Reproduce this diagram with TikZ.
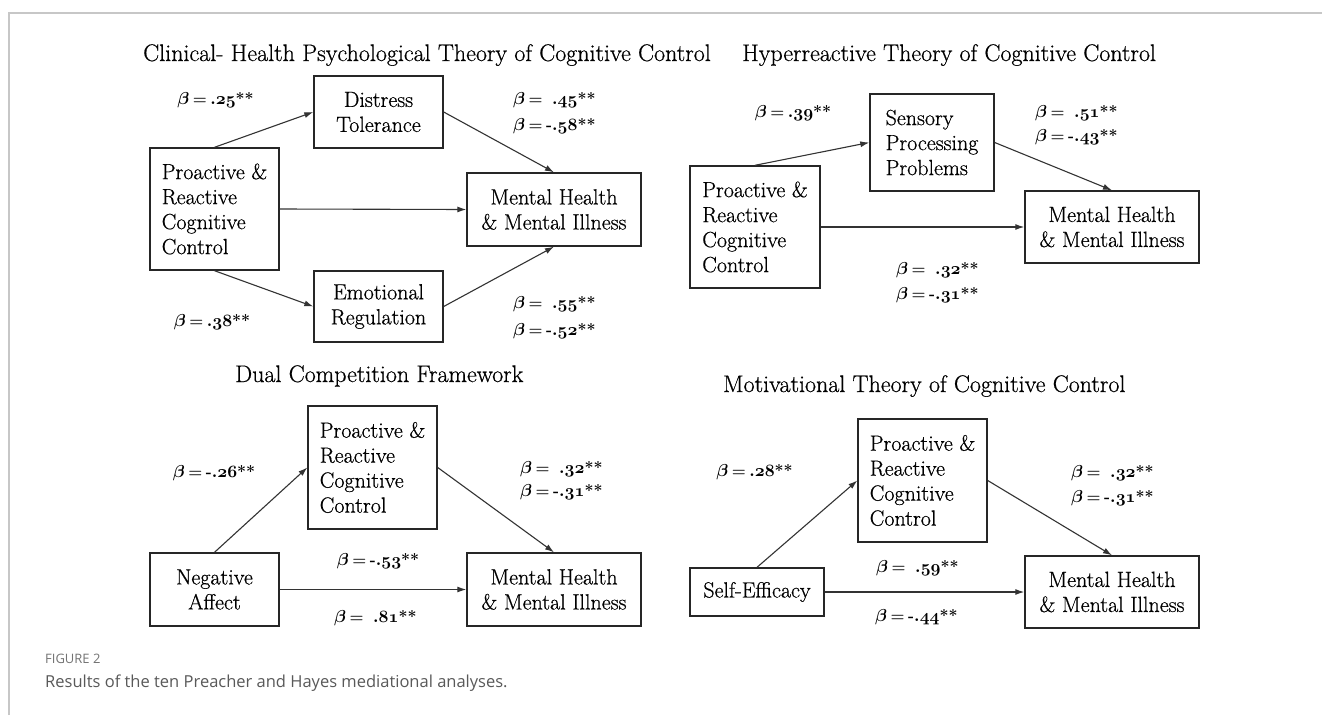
\documentclass[tikz,border=0pt]{standalone}
\usepackage{fontspec}
\newfontfamily\capfont{Open Sans}
\newfontfamily\heavy{Latin Modern Roman}[FakeBold=0.6]
\usetikzlibrary{arrows.meta}
\newcommand{\bl}[2]{$\beta$\hspace{0.22em}=\hspace{0.22em}#1$\mathnormal{.#2}$**}
\begin{document}
\begin{tikzpicture}[x=1pt,y=-1pt,
  box/.style={draw=black!85, line width=1.4pt, inner sep=0pt, font=\heavy\fontsize{22}{25}\selectfont},
  conn/.style={draw=black!80, line width=1.1pt, -{Latex[length=9pt,width=6pt]}},
  lbl/.style={font=\fontsize{16}{25}\selectfont\bfseries\boldmath, inner sep=0pt, align=left},
  ttl/.style={font=\heavy\fontsize{24}{28}\selectfont, inner sep=0pt, anchor=base west},
  frame/.style={draw=black!22, line width=1.5pt},
]
\useasboundingbox (0,0) rectangle (1322,715);
\fill[white] (0,0) rectangle (1322,715);
\draw[frame] (9,715) -- (9,13) -- (1322,13);

% Panel 1
\node[ttl] (t1) at (143,61) {Clinical- Health Psychological Theory of Cognitive Control};
\node[box, minimum width=129pt, minimum height=122pt, align=left] (p1prc) at (214.5,209) {Proactive \&\\Reactive\\Cognitive\\Control};
\node[box, minimum width=129pt, minimum height=72pt, align=center] (p1dt) at (378.5,112) {Distress\\Tolerance};
\node[box, minimum width=129pt, minimum height=71pt, align=center] (p1er) at (378.5,306.5) {Emotional\\Regulation};
\node[box, minimum width=174pt, minimum height=73pt, align=center] (p1mh) at (554,209.5) {Mental Health\\\& Mental Illness};
\draw[conn] (p1prc.north) -- (p1dt.west);
\draw[conn] (p1dt.east) -- (p1mh.north);
\draw[conn] (p1prc.east) -- (p1mh.west);
\draw[conn] (p1prc.south) -- (p1er.west);
\draw[conn] (p1er.east) -- (p1mh.south);
\node[lbl] (l1a) at (215.5,100) {\bl{}{25}};
\node[lbl, anchor=west, font=\fontsize{16}{26}\selectfont\bfseries\boldmath] (l1b) at (513,113) {\bl{\phantom{-}}{45}\\\bl{-}{58}};
\node[lbl] (l1c) at (212,322) {\bl{}{38}};
\node[lbl, anchor=west, font=\fontsize{16}{27}\selectfont\bfseries\boldmath] (l1d) at (513,317.5) {\bl{\phantom{-}}{55}\\\bl{-}{52}};

% Panel 2
\node[ttl] (t2) at (742,61) {Hyperreactive Theory of Cognitive Control};
\node[box, minimum width=130pt, minimum height=122pt, align=left] (p2prc) at (755,227) {Proactive \&\\Reactive\\Cognitive\\Control};
\node[box, minimum width=124pt, minimum height=97pt, align=left] (p2sp) at (932,142.5) {Sensory\\Processing\\Problems};
\node[box, minimum width=174pt, minimum height=72pt, align=center] (p2mh) at (1112,227) {Mental Health\\\& Mental Illness};
\draw[conn] (p2prc.north) -- (p2sp.west);
\draw[conn] (p2sp.east) -- (p2mh.north);
\draw[conn] (p2prc.east) -- (p2mh.west);
\node[lbl] (l2a) at (793,113) {\bl{}{39}};
\node[lbl, anchor=west, font=\fontsize{16}{24}\selectfont\bfseries\boldmath] (l2b) at (1035,125) {\bl{\phantom{-}}{51}\\\bl{-}{43}};
\node[lbl, anchor=west] (l2c) at (896,282.5) {\bl{\phantom{-}}{32}\\\bl{-}{31}};

% Panel 3
\node[ttl] (t3) at (235,382) {Dual Competition Framework};
\node[box, minimum width=129pt, minimum height=123pt, align=left] (p3prc) at (372.5,467.5) {Proactive \&\\Reactive\\Cognitive\\Control};
\node[box, minimum width=129pt, minimum height=73pt, align=center] (p3na) at (214.5,589.5) {Negative\\Affect};
\node[box, minimum width=174pt, minimum height=73pt, align=center] (p3mh) at (554,589.5) {Mental Health\\\& Mental Illness};
\draw[conn] (p3na.north) -- (p3prc.west);
\draw[conn] (p3prc.east) -- (p3mh.north);
\draw[conn] (p3na.east) -- (p3mh.west);
\node[lbl] (l3a) at (214,473) {\bl{-}{26}};
\node[lbl, anchor=west, font=\fontsize{16}{23}\selectfont\bfseries\boldmath] (l3b) at (520,480.5) {\bl{\phantom{-}}{32}\\\bl{-}{31}};
\node[lbl] (l3c) at (378,561) {\bl{-}{53}};
\node[lbl, anchor=west] (l3d) at (334,618) {\bl{\phantom{-}}{81}};

% Panel 4
\node[ttl] (t4) at (723,392) {Motivational Theory of Cognitive Control};
\node[box, minimum width=129pt, minimum height=123pt, align=left] (p4prc) at (922.5,480.5) {Proactive \&\\Reactive\\Cognitive\\Control};
\node[box, minimum width=134pt, minimum height=48pt, align=center] (p4se) at (757,592) {Self-Efficacy};
\node[box, minimum width=174pt, minimum height=72pt, align=center] (p4mh) at (1112,592) {Mental Health\\\& Mental Illness};
\draw[conn] (p4se.north) -- (p4prc.west);
\draw[conn] (p4prc.east) -- (p4mh.north);
\draw[conn] (p4se.east) -- (p4mh.west);
\node[lbl] (l4a) at (754.5,472) {\bl{}{28}};
\node[lbl, anchor=west] (l4b) at (1071,485.5) {\bl{\phantom{-}}{32}\\\bl{-}{31}};
\node[lbl, anchor=west] (l4c) at (876,568) {\bl{\phantom{-}}{59}};
\node[lbl, anchor=west] (l4d) at (875,617) {\bl{-}{44}};

% Caption
\node[anchor=base west, inner sep=0pt, font=\capfont\fontsize{13}{16}\selectfont, text=black!55] (fig) at (45,663) {FIGURE 2};
\node[anchor=base west, inner sep=0pt, font=\capfont\fontsize{16.5}{19}\selectfont, text=black!65] (cap) at (45,687) {Results of the ten Preacher and Hayes mediational analyses.};
\end{tikzpicture}
\end{document}
